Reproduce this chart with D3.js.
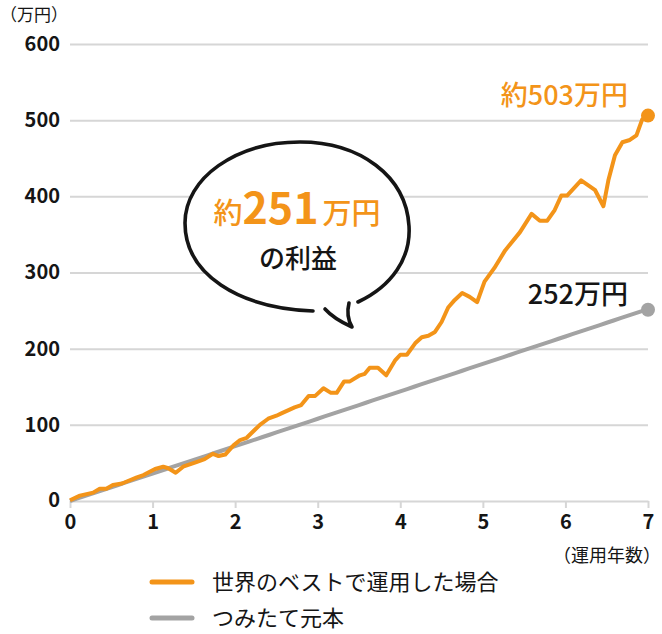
<!DOCTYPE html>
<html>
<head>
<meta charset="utf-8">
<script src="https://cdn.jsdelivr.net/npm/d3@7"></script>
<style>
  html, body { margin: 0; padding: 0; background: #fff; }
  svg { display: block; font-family: "Noto Sans CJK JP", "Noto Sans", sans-serif; }
</style>
</head>
<body>
<div id="chart"></div>
<script>
// ---- data ----
const yTicks = [0, 100, 200, 300, 400, 500, 600];
const xTicks = [0, 1, 2, 3, 4, 5, 6, 7];

// 世界のベストで運用した場合 (years, 万円)
const bestYears = [0, 0.12, 0.28, 0.36, 0.44, 0.52, 0.63, 0.81, 0.89, 1.03, 1.13, 1.19, 1.28, 1.37, 1.45, 1.53, 1.63, 1.73, 1.80, 1.88, 1.98, 2.06, 2.14, 2.30, 2.40, 2.50, 2.56, 2.72, 2.80, 2.89, 2.97, 3.07, 3.16, 3.23, 3.32, 3.39, 3.51, 3.57, 3.63, 3.73, 3.83, 3.94, 4.00, 4.08, 4.18, 4.26, 4.34, 4.42, 4.50, 4.58, 4.66, 4.75, 4.84, 4.93, 5.02, 5.14, 5.27, 5.45, 5.59, 5.69, 5.78, 5.87, 5.95, 6.02, 6.19, 6.36, 6.46, 6.52, 6.60, 6.69, 6.78, 6.86, 6.93, 7.00];
const bestValues = [1, 7, 11, 16, 16, 21, 23, 31, 34, 42, 45, 43, 37, 45, 48, 51, 55, 62, 59, 61, 73, 80, 83, 100, 108, 112, 115, 123, 126, 138, 138, 148, 142, 142, 157, 157, 165, 167, 175, 175, 165, 185, 192, 192, 207, 215, 217, 222, 235, 254, 264, 273, 268, 261, 288, 306, 329, 353, 377, 368, 368, 382, 401, 401, 421, 408, 387, 421, 454, 471, 474, 480, 501, 506];

// つみたて元本 (monthly, 万円)
const principalValues = [0, 3, 6, 9, 12, 15, 18, 21, 24, 27, 30, 33, 36, 39, 42, 45, 48, 51, 54, 57, 60, 63, 66, 69, 72, 75, 78, 81, 84, 87, 90, 93, 96, 99, 102, 105, 108, 111, 114, 117, 120, 123, 126, 129, 132, 135, 138, 141, 144, 147, 150, 153, 156, 159, 162, 165, 168, 171, 174, 177, 180, 183, 186, 189, 192, 195, 198, 201, 204, 207, 210, 213, 216, 219, 222, 225, 228, 231, 234, 237, 240, 243, 246, 249, 251];

const seriesNames = ["世界のベストで運用した場合", "つみたて元本"];
const endLabels = ["約503万円", "252万円"];
const bubbleLabel = { pre: "約", num: "251", post: "万円", sub: "の利益" };
const unitY = "（万円）";
const unitX = "（運用年数）";

// ---- layout ----
const W = 662, H = 634;
const margin = { left: 70, right: 14, top: 44, bottom: 133 };
const orange = "#f39419", gray = "#a3a3a3", grid = "#d6d6d6", ink = "#151515";

const svg = d3.select("#chart").append("svg").attr("width", W).attr("height", H);

const x = d3.scaleLinear().domain([0, 7]).range([margin.left, W - margin.right]);
const y = d3.scaleLinear().domain([0, 600]).range([H - margin.bottom, margin.top]);

// gridlines + y labels
const yAxis = svg.append("g")
  .attr("transform", `translate(${margin.left},0)`)
  .call(d3.axisLeft(y).tickValues(yTicks.slice(1)).tickSize(-(W - margin.right - margin.left)).tickPadding(10));
yAxis.select(".domain").remove();
yAxis.selectAll(".tick line").attr("stroke", grid).attr("stroke-width", 2);
yAxis.selectAll(".tick text").attr("fill", ink).attr("font-size", 20).attr("font-weight", 700)
  .attr("font-family", "'Noto Sans CJK JP', sans-serif");

// zero label
svg.append("text").attr("x", margin.left - 10).attr("y", y(0)).attr("dy", "0.32em")
  .attr("text-anchor", "end").attr("font-size", 20).attr("font-weight", 700).attr("fill", ink)
  .text(yTicks[0]);

// x axis
const xAxis = svg.append("g")
  .attr("transform", `translate(0,${y(0)})`)
  .call(d3.axisBottom(x).tickValues(xTicks).tickFormat(d3.format("d")).tickSize(7).tickPadding(7).tickSizeOuter(0));
xAxis.select(".domain").attr("stroke", grid).attr("stroke-width", 2);
xAxis.selectAll(".tick line").attr("stroke", grid).attr("stroke-width", 2);
xAxis.selectAll(".tick text").attr("fill", ink).attr("font-size", 20).attr("font-weight", 700)
  .attr("font-family", "'Noto Sans CJK JP', sans-serif");

// unit labels
svg.append("text").attr("x", 0).attr("y", 21).attr("font-size", 17).attr("fill", ink).text(unitY);
svg.append("text").attr("x", 661).attr("y", 562).attr("text-anchor", "end").attr("font-size", 18).attr("fill", ink).text(unitX);

// lines
const line = d3.line().x(d => x(d[0])).y(d => y(d[1])).curve(d3.curveLinear);
const principalData = principalValues.map((v, i) => [i / 12, v]);
const bestData = bestYears.map((t, i) => [t, bestValues[i]]);

svg.append("path").datum(principalData).attr("d", line)
  .attr("fill", "none").attr("stroke", gray).attr("stroke-width", 4).attr("stroke-linejoin", "round");
svg.append("path").datum(bestData).attr("d", line)
  .attr("fill", "none").attr("stroke", orange).attr("stroke-width", 4).attr("stroke-linejoin", "round");

// end dots
const lastP = principalData[principalData.length - 1];
const lastB = bestData[bestData.length - 1];
svg.append("circle").attr("cx", x(lastP[0])).attr("cy", y(lastP[1])).attr("r", 7).attr("fill", gray);
svg.append("circle").attr("cx", x(lastB[0])).attr("cy", y(lastB[1])).attr("r", 7).attr("fill", orange);

// end labels
svg.append("text").attr("x", 628).attr("y", 105).attr("text-anchor", "end")
  .attr("font-size", 27).attr("font-weight", 500).attr("fill", orange).text(endLabels[0]);
svg.append("text").attr("x", 628).attr("y", 304).attr("text-anchor", "end")
  .attr("font-size", 27).attr("font-weight", 500).attr("fill", ink).text(endLabels[1]);

// speech bubble
const bubble = svg.append("g");
bubble.append("path")
  .attr("d", "M358,302 C392,286 411,258 409,226 C406,176 360,142 300,142 C236,142 185,178 185,223 C185,274 238,308 313,311")
  .attr("fill", "#fff").attr("stroke", ink).attr("stroke-width", 3.6).attr("stroke-linecap", "round");
bubble.append("path")
  .attr("d", "M325,309 C333,318 343,323 352,327 C348,320 347,311 349,303")
  .attr("fill", "none").attr("stroke", ink).attr("stroke-width", 3.6)
  .attr("stroke-linecap", "round").attr("stroke-linejoin", "round");

const bt = bubble.append("text").attr("x", 297).attr("y", 224).attr("text-anchor", "middle").attr("fill", orange);
bt.append("tspan").attr("font-size", 29).attr("font-weight", 500).text(bubbleLabel.pre);
bt.append("tspan").attr("font-size", 43).attr("font-weight", 700).text(bubbleLabel.num);
bt.append("tspan").attr("font-size", 29).attr("font-weight", 500).attr("dx", 4).text(bubbleLabel.post);
bubble.append("text").attr("x", 298).attr("y", 268).attr("text-anchor", "middle")
  .attr("font-size", 26).attr("font-weight", 500).attr("fill", ink).text(bubbleLabel.sub);

// legend
const legend = svg.append("g");
[orange, gray].forEach((c, i) => {
  const ly = 582 + i * 36;
  legend.append("line").attr("x1", 152).attr("x2", 192).attr("y1", ly).attr("y2", ly)
    .attr("stroke", c).attr("stroke-width", 5).attr("stroke-linecap", "round");
  legend.append("text").attr("x", 212).attr("y", ly).attr("dy", "0.36em")
    .attr("font-size", 22).attr("fill", ink).text(seriesNames[i]);
});
</script>
</body>
</html>
